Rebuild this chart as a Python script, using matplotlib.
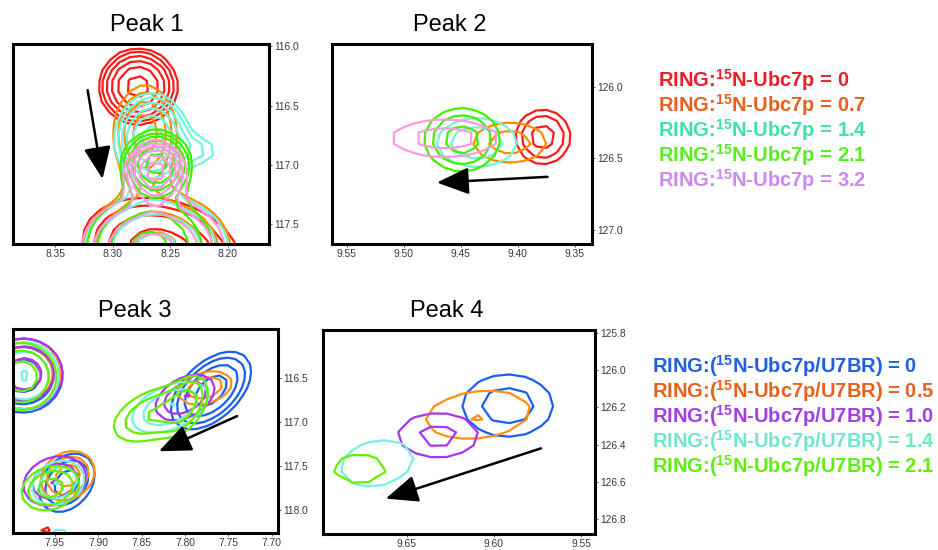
import numpy as np
import matplotlib.pyplot as plt

plt.rcParams['font.family'] = ['Liberation Sans', 'DejaVu Sans']
plt.rcParams['mathtext.fontset'] = 'custom'
plt.rcParams['mathtext.rm'] = 'Liberation Sans'
plt.rcParams['mathtext.bf'] = 'Liberation Sans:bold'

# ---------------- data ----------------
# contour colours per titration point
colors_top = ['#ff1a1a', '#ff8c00', '#72f5dc', '#44ee00', '#ff99e0']
colors_bot = ['#1a5ef0', '#ff9010', '#aa33f0', '#77f2e0', '#66ee00', '#ff1a1a']

ratios_top = ['0', '0.7', '1.4', '2.1', '3.2']
ratios_bot = ['0', '0.5', '1.0', '1.4', '2.1']
text_colors_top = ['#e8202a', '#e8601c', '#3fe0b0', '#55ee22', '#cc88ee']
text_colors_bot = ['#2060e0', '#e8601c', '#a040e0', '#70e8c8', '#60ee10']

# each peak: series index, 1H ppm, 15N ppm, half widths of lowest contour, intensity, tilt
p1_series = [0, 1, 2, 2, 3, 4, 0, 1, 2, 3, 4]
p1_h = [8.278, 8.272, 8.266, 8.225, 8.262, 8.263, 8.258, 8.262, 8.262, 8.268, 8.265]
p1_n = [116.34, 116.73, 116.78, 116.88, 116.99, 117.05, 117.72, 117.70, 117.70, 117.68, 117.70]
p1_wh = [0.034, 0.027, 0.032, 0.012, 0.030, 0.025, 0.068, 0.064, 0.062, 0.054, 0.062]
p1_wn = [0.32, 0.40, 0.38, 0.08, 0.28, 0.25, 0.44, 0.46, 0.44, 0.42, 0.43]
p1_amp = [0.95, 0.5, 0.95, 0.2, 0.95, 0.95, 0.5, 0.45, 0.45, 0.45, 0.45]
p1_tilt = [0, 0, 0, 0, 0, 0, -0.2, 0, 0, 0, 0]

p2_series = [0, 1, 2, 3, 4, 3]
p2_h = [9.378, 9.407, 9.436, 9.449, 9.464, 9.332]
p2_n = [126.35, 126.39, 126.39, 126.37, 126.36, 126.18]
p2_wh = [0.024, 0.032, 0.035, 0.033, 0.047, 0.004]
p2_wn = [0.19, 0.14, 0.17, 0.22, 0.13, 0.03]
p2_amp = [0.35, 0.25, 0.27, 0.35, 0.25, 0.18]
p2_tilt = [0, 0, 0, 0, 0, 0]

p3_series = [0, 1, 2, 3, 4, 4,
             0, 1, 2, 3, 4,
             0, 1, 2, 3, 4,
             5, 3, 5]
p3_h = [7.770, 7.777, 7.800, 7.817, 7.836, 7.797,
        7.987, 7.985, 7.985, 7.985, 7.988,
        7.936, 7.935, 7.950, 7.946, 7.955,
        7.961, 7.944, 7.832]
p3_n = [116.64, 116.61, 116.72, 116.83, 116.91, 116.78,
        116.47, 116.45, 116.45, 116.47, 116.48,
        117.69, 117.61, 117.67, 117.69, 117.75,
        118.21, 118.31, 118.29]
p3_wh = [0.046, 0.031, 0.034, 0.044, 0.046, 0.012,
         0.046, 0.042, 0.044, 0.040, 0.040,
         0.032, 0.031, 0.036, 0.030, 0.033,
         0.006, 0.012, 0.014]
p3_wn = [0.44, 0.19, 0.26, 0.29, 0.31, 0.18,
         0.42, 0.40, 0.40, 0.38, 0.38,
         0.33, 0.28, 0.28, 0.25, 0.25,
         0.05, 0.08, 0.05]
p3_amp = [0.5, 0.27, 0.3, 0.3, 0.3, 0.2,
          0.35, 0.35, 0.35, 0.3, 0.35,
          0.35, 0.35, 0.3, 0.3, 0.35,
          0.2, 0.2, 0.2]
p3_tilt = [0.5, 0.3, 0.4, 0.45, 0.45, 0.5,
           0, 0, 0, 0, 0,
           0.3, 0.2, 0.2, 0.2, 0.2,
           0, 0, 0]

p4_series = [0, 1, 2, 3, 4]
p4_h = [9.592, 9.609, 9.632, 9.667, 9.677]
p4_n = [126.19, 126.24, 126.35, 126.50, 126.53]
p4_wh = [0.026, 0.030, 0.023, 0.021, 0.015]
p4_wn = [0.167, 0.13, 0.12, 0.126, 0.08]
p4_amp = [0.25, 0.215, 0.235, 0.19, 0.19]
p4_tilt = [0, 0.2, 0, 0.2, 0]

# shift arrows (start -> end)
arrow1 = [(8.322, 116.37), (8.309, 117.12)]
arrow2 = [(9.374, 126.63), (9.471, 126.67)]
arrow3 = [(7.740, 116.93), (7.830, 117.33)]
arrow4 = [(9.573, 126.42), (9.662, 126.69)]

levels = 0.15 * 1.4 ** np.arange(10)


def draw_peaks(ax, xlim, ylim, step, series, cx, cy, wx, wy, amp, tilt, colors):
    xs = np.arange(min(xlim) - 0.05, max(xlim) + 0.05, step[0])
    ys = np.arange(min(ylim) - 0.5, max(ylim) + 0.5, step[1])
    X, Y = np.meshgrid(xs, ys)
    for s in sorted(set(series)):
        Z = np.zeros_like(X)
        for i in range(len(series)):
            if series[i] != s:
                continue
            r = np.sqrt(2 * np.log(amp[i] / levels[0]))
            u = (X - cx[i]) / (wx[i] / r)
            v = (Y - cy[i]) / (wy[i] / r)
            q = (u * u - 2 * tilt[i] * u * v + v * v) / (1 - tilt[i] ** 2)
            Z += amp[i] * np.exp(-q / 2)
        ax.contour(X, Y, Z, levels=levels, colors=colors[s], linewidths=1.6)


def setup(ax, xlim, ylim, xticks, yticks):
    ax.set_xlim(xlim)
    ax.set_ylim(ylim)
    ax.yaxis.tick_right()
    ax.set_xticks(xticks)
    ax.set_yticks(yticks)
    ax.set_xticklabels(['%.2f' % t for t in xticks])
    ax.set_yticklabels(['%.1f' % t for t in yticks])
    ax.tick_params(length=2, width=0.6, pad=1.5, labelsize=7.4, colors='#3a3a3a')
    for sp in ax.spines.values():
        sp.set_linewidth(2.2)


def arrow(ax, a):
    ax.annotate('', xy=a[1], xytext=a[0],
                arrowprops=dict(arrowstyle='-|>,head_length=0.9,head_width=0.38',
                                color='black', lw=1.8, mutation_scale=22,
                                shrinkA=0, shrinkB=0))


fig = plt.figure(figsize=(9.38, 5.5), dpi=100)

ax1 = fig.add_axes([0.01386, 0.5564, 0.2729, 0.3636])
ax2 = fig.add_axes([0.3539, 0.5564, 0.2772, 0.3636])
ax3 = fig.add_axes([0.01386, 0.0309, 0.2825, 0.3709])
ax4 = fig.add_axes([0.3443, 0.0291, 0.2900, 0.3709])

lim1 = ((8.387, 8.164), (117.67, 115.98))
lim2 = ((9.563, 9.335), (127.10, 125.70))
lim3 = ((7.998, 7.693), (118.26, 115.94))
lim4 = ((9.698, 9.542), (126.88, 125.784))

draw_peaks(ax1, lim1[0], lim1[1], (0.009, 0.09), p1_series, p1_h, p1_n, p1_wh, p1_wn, p1_amp, p1_tilt, colors_top)
draw_peaks(ax2, lim2[0], lim2[1], (0.009, 0.08), p2_series, p2_h, p2_n, p2_wh, p2_wn, p2_amp, p2_tilt, colors_top)
draw_peaks(ax3, lim3[0], lim3[1], (0.009, 0.09), p3_series, p3_h, p3_n, p3_wh, p3_wn, p3_amp, p3_tilt, colors_bot)
draw_peaks(ax4, lim4[0], lim4[1], (0.009, 0.07), p4_series, p4_h, p4_n, p4_wh, p4_wn, p4_amp, p4_tilt, colors_bot)

setup(ax1, lim1[0], lim1[1], [8.35, 8.30, 8.25, 8.20], [116.0, 116.5, 117.0, 117.5])
setup(ax2, lim2[0], lim2[1], [9.55, 9.50, 9.45, 9.40, 9.35], [126.0, 126.5, 127.0])
setup(ax3, lim3[0], lim3[1], [7.95, 7.90, 7.85, 7.80, 7.75, 7.70], [116.5, 117.0, 117.5, 118.0])
setup(ax4, lim4[0], lim4[1], [9.65, 9.60, 9.55], [125.8, 126.0, 126.2, 126.4, 126.6, 126.8])

arrow(ax1, arrow1)
arrow(ax2, arrow2)
arrow(ax3, arrow3)
arrow(ax4, arrow4)

# panel titles
fig.text(0.1567, 1 - 31 / 550, 'Peak 1', fontsize=17, ha='center', va='baseline')
fig.text(0.4797, 1 - 31 / 550, 'Peak 2', fontsize=17, ha='center', va='baseline')
fig.text(0.1440, 1 - 317 / 550, 'Peak 3', fontsize=17, ha='center', va='baseline')
fig.text(0.4765, 1 - 317 / 550, 'Peak 4', fontsize=17, ha='center', va='baseline')

# coloured legends
for i, r in enumerate(ratios_top):
    fig.text(658 / 938, 1 - (87 + 25 * i) / 550,
             r'RING:$^{\mathbf{15}}$N-Ubc7p = ' + r,
             fontsize=14.5, fontweight='bold', color=text_colors_top[i], va='baseline')
for i, r in enumerate(ratios_bot):
    fig.text(652 / 938, 1 - (373 + 25 * i) / 550,
             r'RING:($^{\mathbf{15}}$N-Ubc7p/U7BR) = ' + r,
             fontsize=14.5, fontweight='bold', color=text_colors_bot[i], va='baseline')

fig.savefig('out.png', dpi=100)
